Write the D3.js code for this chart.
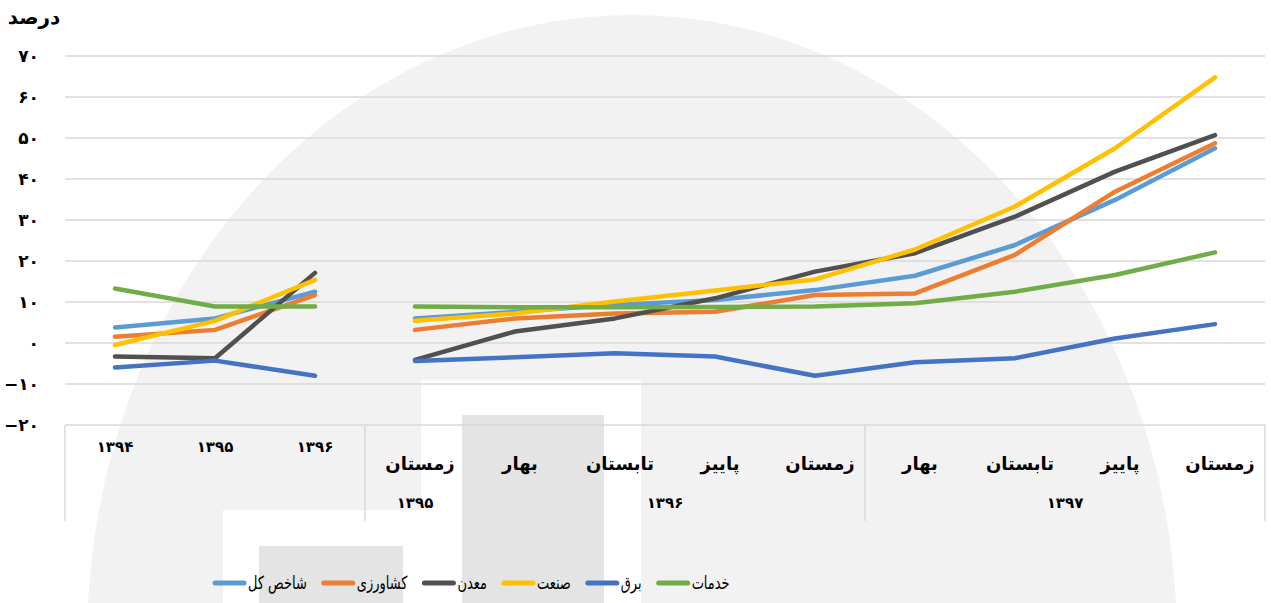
<!DOCTYPE html>
<html>
<head>
<meta charset="utf-8">
<script src="https://cdn.jsdelivr.net/npm/d3@7"></script>
<style>
  body { margin: 0; background: #fff; }
  svg { display: block; }
  text { font-family: "DejaVu Sans", sans-serif; }
</style>
</head>
<body>
<div id="chart"></div>
<script>
// Data
const categories = ["۱۳۹۴", "۱۳۹۵", "۱۳۹۶", "زمستان", "بهار", "تابستان", "پاییز", "زمستان", "بهار", "تابستان", "پاییز", "زمستان"];
const annualCount = 3;
const groups = [
    { label: "۱۳۹۵", from: 3, to: 3 },
    { label: "۱۳۹۶", from: 4, to: 7 },
    { label: "۱۳۹۷", from: 8, to: 11 }
];
const seriesNames = ["شاخص کل", "کشاورزی", "معدن", "صنعت", "برق", "خدمات"];
const shakhesKol = [3.8, 6.0, 12.5, 6.0, 7.6, 9.3, 10.5, 12.9, 16.4, 23.9, 34.9, 47.5];
const keshavarzi = [1.5, 3.2, 11.7, 3.2, 6.0, 7.2, 7.6, 11.7, 12.1, 21.5, 36.9, 48.7];
const madan = [-3.3, -3.7, 17.1, -4.1, 2.8, 6.0, 10.9, 17.4, 21.9, 30.8, 41.8, 50.7];
const sanat = [-0.5, 5.4, 15.4, 5.4, 7.2, 10.1, 12.8, 15.5, 22.8, 33.3, 47.5, 64.8];
const bargh = [-6.0, -4.3, -8.0, -4.4, -3.5, -2.5, -3.3, -8.0, -4.7, -3.7, 1.1, 4.6];
const khadamat = [13.3, 8.9, 8.9, 8.9, 8.7, 8.7, 8.8, 8.9, 9.7, 12.5, 16.6, 22.1];
const yTicks = [-20, -10, 0, 10, 20, 30, 40, 50, 60, 70];
const colors = ["#5B9BD5", "#ED7D31", "#505050", "#FFC000", "#4472C4", "#70AD47"];
const seriesValues = [shakhesKol, keshavarzi, madan, sanat, bargh, khadamat];

const width = 1271;
const height = 603;
const margin = { top: 56, right: 6, bottom: 178, left: 65 };

const toFa = (n) => {
    const s = String(Math.abs(n)).replace(/\d/g, (d) => "۰۱۲۳۴۵۶۷۸۹"[d]);
    return n < 0 ? "−" + s : s;
};

const svg = d3.select("#chart").append("svg")
    .attr("width", width)
    .attr("height", height);

// Faint watermark in the background
const wm = svg.append("g").attr("class", "watermark");
wm.append("ellipse")
    .attr("cx", 632).attr("cy", 640)
    .attr("rx", 545).attr("ry", 625)
    .attr("fill", "#f2f2f2");
wm.append("rect").attr("x", 421).attr("y", 380).attr("width", 220).attr("height", 230).attr("fill", "#ffffff");
wm.append("rect").attr("x", 462).attr("y", 415).attr("width", 142).attr("height", 200).attr("fill", "#e4e4e4");
wm.append("rect").attr("x", 223).attr("y", 510).attr("width", 198).attr("height", 100).attr("fill", "#ffffff");
wm.append("rect").attr("x", 259).attr("y", 546).attr("width", 144).attr("height", 70).attr("fill", "#e4e4e4");

// Scales
const x = d3.scaleBand()
    .domain(d3.range(categories.length))
    .range([margin.left, width - margin.right])
    .paddingInner(0).paddingOuter(0);
const cx = (i) => x(i) + x.bandwidth() / 2;

const y = d3.scaleLinear()
    .domain([-20, 70])
    .range([height - margin.bottom, margin.top]);

// Gridlines
svg.append("g")
    .selectAll("line")
    .data(yTicks)
    .join("line")
    .attr("x1", margin.left)
    .attr("x2", width - margin.right)
    .attr("y1", (d) => y(d))
    .attr("y2", (d) => y(d))
    .attr("stroke", "#d9d9d9")
    .attr("stroke-width", 1.5);

// Y axis labels
const yAxis = d3.axisLeft(y).tickValues(yTicks).tickFormat(toFa).tickSize(0).tickPadding(26);
const yAxisGroup = svg.append("g")
    .attr("transform", `translate(${margin.left},0)`)
    .call(yAxis);
yAxisGroup.select(".domain").remove();
yAxisGroup.selectAll("text")
    .attr("direction", "ltr")
    .style("font-size", "17px")
    .style("font-weight", "bold")
    .attr("fill", "#000");

svg.append("text")
    .attr("x", 34)
    .attr("y", 24)
    .attr("text-anchor", "middle")
    .style("font-size", "20px")
    .style("font-weight", "bold")
    .text("درصد");

// X axis separators
const axisY = y(-20);
const sepIndex = [0, annualCount, groups[1].to + 1, categories.length];
svg.append("g")
    .selectAll("line")
    .data(sepIndex)
    .join("line")
    .attr("x1", (d) => (d < categories.length ? x(d) : x(d - 1) + x.bandwidth()))
    .attr("x2", (d) => (d < categories.length ? x(d) : x(d - 1) + x.bandwidth()))
    .attr("y1", axisY)
    .attr("y2", axisY + 96)
    .attr("stroke", "#d9d9d9")
    .attr("stroke-width", 1.5);

// Category labels
svg.append("g")
    .selectAll("text")
    .data(categories)
    .join("text")
    .attr("x", (d, i) => (i < annualCount ? cx(i) : cx(i) + 5))
    .attr("y", (d, i) => (i < annualCount ? axisY + 27 : axisY + 45))
    .attr("text-anchor", "middle")
    .style("font-size", (d, i) => (i < annualCount ? "15px" : "18px"))
    .style("font-weight", "bold")
    .text((d) => d);

// Group labels
svg.append("g")
    .selectAll("text")
    .data(groups)
    .join("text")
    .attr("x", (d) => (cx(d.from) + cx(d.to)) / 2)
    .attr("y", axisY + 83)
    .attr("text-anchor", "middle")
    .style("font-size", "15px")
    .style("font-weight", "bold")
    .text((d) => d.label);

// Lines (annual part and quarterly part are not connected)
const line = d3.line()
    .x((d) => cx(d.i))
    .y((d) => y(d.v));

seriesValues.forEach((vals, s) => {
    const pts = vals.map((v, i) => ({ i: i, v: v }));
    [pts.slice(0, annualCount), pts.slice(annualCount)].forEach((seg) => {
        svg.append("path")
            .datum(seg)
            .attr("d", line)
            .attr("fill", "none")
            .attr("stroke", colors[s])
            .attr("stroke-width", 4.5)
            .attr("stroke-linecap", "round")
            .attr("stroke-linejoin", "round");
    });
});

// Legend (the original font is narrow, so squeeze the text a bit)
const legend = svg.append("g").attr("class", "legend");
let lx = 213;
const ly = 583;
seriesNames.forEach((name, s) => {
    legend.append("line")
        .attr("x1", lx + 2)
        .attr("x2", lx + 31)
        .attr("y1", ly)
        .attr("y2", ly)
        .attr("stroke", colors[s])
        .attr("stroke-width", 5)
        .attr("stroke-linecap", "round");
    const t = legend.append("text")
        .attr("x", lx + 35)
        .attr("y", ly + 6)
        .attr("text-anchor", "start")
        .style("font-size", "18px")
        .attr("fill", "#000")
        .text(name);
    const w = t.node().getComputedTextLength() * 0.72;
    t.attr("textLength", w).attr("lengthAdjust", "spacingAndGlyphs");
    lx += 35 + w + 15;
});
</script>
</body>
</html>
